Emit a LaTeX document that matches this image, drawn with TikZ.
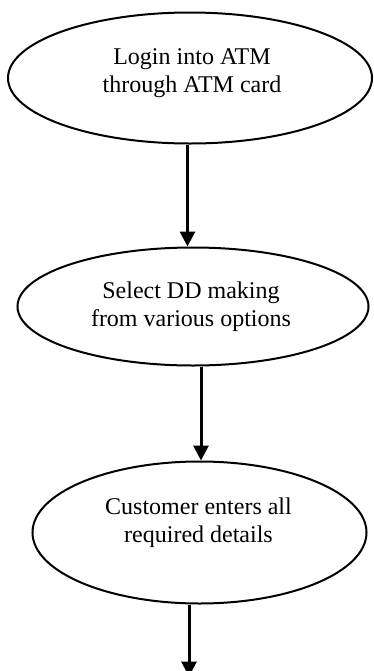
\documentclass[tikz,border=0pt]{standalone}
\usepackage{fontspec}
\setmainfont{Liberation Serif}
\usetikzlibrary{shapes.geometric,arrows.meta}
\tikzset{
  oval/.style={draw=black, line width=1pt, ellipse, inner sep=0pt},
  label text/.style={align=center, font=\fontsize{12pt}{14pt}\selectfont, inner sep=0pt},
  arr/.style={line width=1.5pt, -{Triangle[width=7.5pt,length=7.5pt]}}
}
\begin{document}
\begin{tikzpicture}[x=0.5pt,y=-0.5pt]
\useasboundingbox (0,0) rectangle (374,671);
\node[oval, minimum width=182pt, minimum height=65.5pt] (e1) at (190,78) {};
\node[oval, minimum width=175.5pt, minimum height=59pt] (e2) at (193,306.5) {};
\node[oval, minimum width=167pt, minimum height=71pt] (e3) at (199.5,532.5) {};
\node[label text] (t1) at (192,73) {Login into ATM\\through ATM card};
\node[label text] (t2) at (191,307) {Select DD making\\from various options};
\node[label text] (t3) at (198.5,523) {Customer enters all\\required details};
\coordinate (s1) at ([xshift=-1.25pt]e1.south);
\coordinate (s2) at ([xshift=4pt]e2.south);
\coordinate (s3) at ([xshift=-5.25pt]e3.south);
\coordinate (end3) at ([yshift=-36pt]s3);
\draw[arr] (s1) -- (s1 |- e2.north);
\draw[arr] (s2) -- (s2 |- e3.north);
\draw[arr] (s3) -- (end3);
\end{tikzpicture}
\end{document}
